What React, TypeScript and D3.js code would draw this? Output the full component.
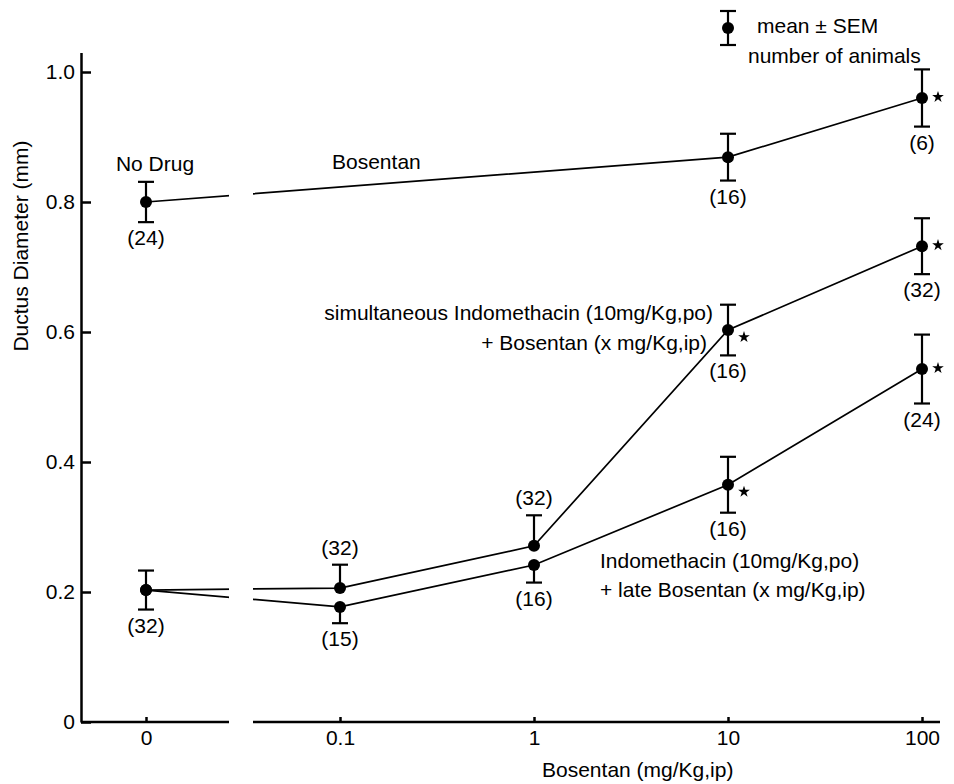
import React, { useEffect, useRef } from 'react';
import * as d3 from 'd3';

// dose 0 ("No Drug" / indomethacin alone) is drawn one decade left of 0.1
const ZERO_AT = 0.01;

const bosDoses = [0, 10, 100];
const bosMeans = [0.8, 0.869, 0.96];
const bosSem = [0.031, 0.036, 0.044];
const bosN = ['(24)', '(16)', '(6)'];
const bosStar = [false, false, true];

const simDoses = [0, 0.1, 1, 10, 100];
const simMeans = [0.203, 0.206, 0.271, 0.603, 0.732];
const simSem = [0.03, 0.036, 0.047, 0.039, 0.043];
const simBars = ['both', 'up', 'up', 'both', 'both'];
const simN = ['(32)', '(32)', '(32)', '(16)', '(32)'];
const simStar = [false, false, false, true, true];

const lateDoses = [0, 0.1, 1, 10, 100];
const lateMeans = [0.203, 0.177, 0.2415, 0.365, 0.543];
const lateSem = [0.03, 0.025, 0.027, 0.043, 0.053];
const lateBars = ['none', 'down', 'down', 'both', 'both'];
const lateN = ['', '(15)', '(16)', '(16)', '(24)'];
const lateStar = [false, false, false, true, true];

const xTicks = [0, 0.1, 1, 10, 100];
const yTicks = [0, 0.2, 0.4, 0.6, 0.8, 1.0];

const App = () => {
  const ref = useRef(null);

  useEffect(() => {
    const svg = d3.select(ref.current);
    svg.selectAll('*').remove();

    const font = '"Liberation Sans", Arial, Helvetica, sans-serif';
    const fs = 21;
    const gapL = 229;
    const gapR = 253;

    const x = d3.scaleLog().domain([0.1, 100]).range([340, 922]);
    const xp = (d) => x(d === 0 ? ZERO_AT : d);
    const y = d3.scaleLinear().domain([0, 1.03]).range([722, 52.5]);

    svg.append('rect').attr('width', 954).attr('height', 784).attr('fill', '#fff');

    const clip = svg.append('defs').append('clipPath').attr('id', 'brk');
    clip.append('rect').attr('x', 0).attr('y', 0).attr('width', gapL).attr('height', 784);
    clip.append('rect').attr('x', gapR).attr('y', 0).attr('width', 954 - gapR).attr('height', 784);

    // y axis
    const yAxis = svg
      .append('g')
      .attr('transform', 'translate(81,0)')
      .call(
        d3
          .axisLeft(y)
          .tickValues(yTicks)
          .tickSizeInner(-10)
          .tickSizeOuter(0)
          .tickPadding(6)
          .tickFormat((d) => (d === 0 ? '0' : d3.format('.1f')(d)))
      );
    yAxis.select('.domain').attr('stroke-width', 2.5);
    yAxis.selectAll('.tick line').attr('stroke-width', 2.5);
    yAxis
      .selectAll('.tick text')
      .attr('font-family', font)
      .attr('font-size', fs)
      .attr('fill', '#000');

    // x axis, with the break between 0 and 0.1
    const xAxis = svg
      .append('g')
      .attr('transform', 'translate(0,722)')
      .call(
        d3
          .axisBottom(x)
          .tickValues(xTicks.map((d) => (d === 0 ? ZERO_AT : d)))
          .tickSizeInner(-5)
          .tickSizeOuter(0)
          .tickPadding(8)
          .tickFormat((d) => (d === ZERO_AT ? '0' : String(d)))
      );
    xAxis.select('.domain').remove();
    xAxis.selectAll('.tick line').attr('stroke-width', 2.5);
    xAxis
      .selectAll('.tick text')
      .attr('font-family', font)
      .attr('font-size', fs)
      .attr('fill', '#000');
    [
      [81, gapL],
      [gapR, 940],
    ].forEach(([a, b]) => {
      svg
        .append('line')
        .attr('x1', a)
        .attr('x2', b)
        .attr('y1', 722)
        .attr('y2', 722)
        .attr('stroke', '#000')
        .attr('stroke-width', 2.5);
    });

    const text = (s, tx, ty, anchor = 'start') =>
      svg
        .append('text')
        .attr('x', tx)
        .attr('y', ty)
        .attr('text-anchor', anchor)
        .attr('font-family', font)
        .attr('font-size', fs)
        .attr('fill', '#000')
        .text(s);

    text('Bosentan (mg/Kg,ip)', 542, 777);
    text('Ductus Diameter (mm)', 0, 0, 'middle').attr(
      'transform',
      'translate(28,246) rotate(-90)'
    );

    const line = d3
      .line()
      .x((d) => xp(d[0]))
      .y((d) => y(d[1]));

    const drawSeries = (doses, means, sem, bars, counts, stars, above) => {
      svg
        .append('path')
        .datum(doses.map((d, i) => [d, means[i]]))
        .attr('d', line)
        .attr('fill', 'none')
        .attr('stroke', '#000')
        .attr('stroke-width', 1.7)
        .attr('clip-path', 'url(#brk)');

      doses.forEach((d, i) => {
        const cx = xp(d);
        const cy = y(means[i]);
        const b = bars[i];
        if (b !== 'none') {
          const top = b === 'down' ? cy : y(means[i] + sem[i]);
          const bot = b === 'up' ? cy : y(means[i] - sem[i]);
          svg
            .append('line')
            .attr('x1', cx)
            .attr('x2', cx)
            .attr('y1', top)
            .attr('y2', bot)
            .attr('stroke', '#000')
            .attr('stroke-width', 2.2);
          if (b !== 'down')
            svg
              .append('line')
              .attr('x1', cx - 8)
              .attr('x2', cx + 8)
              .attr('y1', top)
              .attr('y2', top)
              .attr('stroke', '#000')
              .attr('stroke-width', 2.2);
          if (b !== 'up')
            svg
              .append('line')
              .attr('x1', cx - 8)
              .attr('x2', cx + 8)
              .attr('y1', bot)
              .attr('y2', bot)
              .attr('stroke', '#000')
              .attr('stroke-width', 2.2);
        }
        svg.append('circle').attr('cx', cx).attr('cy', cy).attr('r', 6).attr('fill', '#000');
        if (stars[i]) {
          svg
            .append('path')
            .attr('d', d3.symbol(d3.symbolStar, 42)())
            .attr('transform', `translate(${cx + 16},${cy + (d === 10 ? 7 : -1)})`)
            .attr('fill', '#000');
        }
        if (counts[i]) {
          const isAbove = above[i];
          const ly = isAbove
            ? y(means[i] + sem[i]) - 10
            : y(means[i] - (bars[i] === 'up' ? 0 : sem[i])) + 23;
          text(counts[i], cx, ly, 'middle');
        }
      });
    };

    drawSeries(bosDoses, bosMeans, bosSem, ['both', 'both', 'both'], bosN, bosStar, [false, false, false]);
    drawSeries(simDoses, simMeans, simSem, simBars, simN, simStar, [false, true, true, false, false]);
    drawSeries(lateDoses, lateMeans, lateSem, lateBars, lateN, lateStar, [false, false, false, false, false]);

    // series labels
    text('No Drug', 155, 171, 'middle');
    text('Bosentan', 332, 169);
    text('simultaneous Indomethacin (10mg/Kg,po)', 713, 320, 'end');
    text('+ Bosentan (x mg/Kg,ip)', 707, 350, 'end');
    text('Indomethacin (10mg/Kg,po)', 600, 568);
    text('+ late Bosentan (x mg/Kg,ip)', 600, 597);

    // key
    const kx = 728;
    const ky = 28;
    svg.append('line').attr('x1', kx).attr('x2', kx).attr('y1', ky - 17).attr('y2', ky + 17).attr('stroke', '#000').attr('stroke-width', 2.2);
    [ky - 17, ky + 17].forEach((v) =>
      svg.append('line').attr('x1', kx - 8).attr('x2', kx + 8).attr('y1', v).attr('y2', v).attr('stroke', '#000').attr('stroke-width', 2.2)
    );
    svg.append('circle').attr('cx', kx).attr('cy', ky).attr('r', 6).attr('fill', '#000');
    text('mean \u00B1 SEM', 757, 33);
    text('number of animals', 748, 63);
  }, []);

  return (
    <svg
      ref={ref}
      width={954}
      height={784}
      style={{ position: 'absolute', left: 0, top: 0, display: 'block' }}
    />
  );
};

export default App;
